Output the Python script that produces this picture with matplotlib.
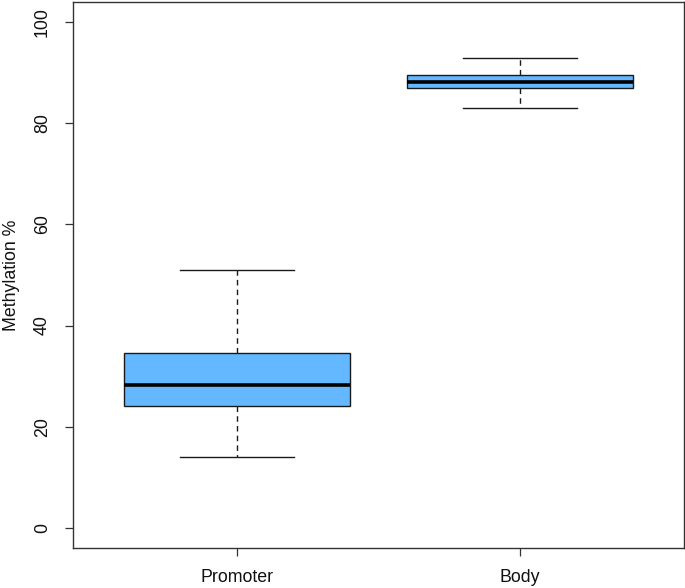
import matplotlib
matplotlib.use("Agg")
import matplotlib.pyplot as plt

categories = ["Promoter", "Body"]
whisker_low = [14.0, 83.0]
q1 = [24.0, 86.9]
median = [28.3, 88.2]
q3 = [34.6, 89.5]
whisker_high = [50.9, 93.0]
yticks = [0, 20, 40, 60, 80, 100]

plt.rcParams['font.family'] = ['Liberation Sans', 'DejaVu Sans']

fig = plt.figure(figsize=(6.85, 5.88), dpi=100)
ax = fig.add_axes([73/685, 1 - 548/588, 611/685, 546/588])

stats = []
for i, c in enumerate(categories):
    stats.append(dict(label=c, whislo=whisker_low[i], q1=q1[i], med=median[i],
                      q3=q3[i], whishi=whisker_high[i], fliers=[]))

ax.bxp(stats, positions=[1, 2], widths=0.8, patch_artist=True, showfliers=False,
       boxprops=dict(facecolor='#63B8FF', edgecolor='#1a1a1a', linewidth=1.0),
       medianprops=dict(color='black', linewidth=2.6, solid_capstyle='butt'),
       whiskerprops=dict(color='#1a1a1a', linewidth=1.0, linestyle=(0, (4, 3))),
       capprops=dict(color='#1a1a1a', linewidth=1.0),
       capwidths=0.4)

ax.set_xlim(0.42, 2.58)
ax.set_ylim(-4, 104)
ax.set_yticks(yticks)
ax.set_yticklabels([str(t) for t in yticks], rotation=90, va='center')
ax.set_xticks([1, 2])
ax.set_xticklabels(categories)
ax.tick_params(axis='both', direction='out', length=6, width=0.9, color='#333333',
               labelsize=12.8, labelcolor='#111111')
ax.tick_params(axis='y', pad=10)
ax.tick_params(axis='x', pad=9)
for s in ax.spines.values():
    s.set_linewidth(1.0)
    s.set_color('#333333')
ax.set_ylabel("Methylation %", fontsize=12.8, labelpad=10, color='#111111')

fig.savefig("out.png", dpi=100)
